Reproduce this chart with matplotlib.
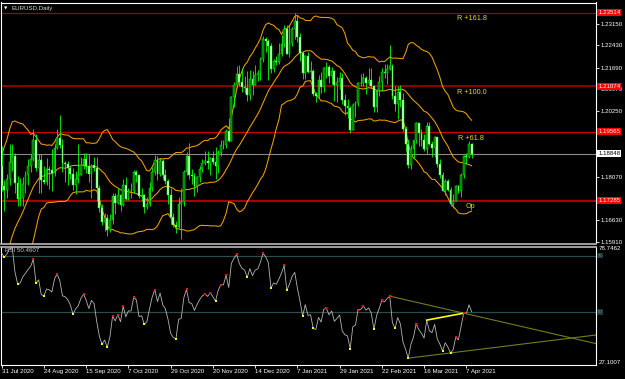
import matplotlib
matplotlib.use("Agg")
import matplotlib.pyplot as plt
from matplotlib.transforms import blended_transform_factory
import numpy as np
import pandas as pd

plt.rcParams['font.family'] = ['Liberation Sans', 'DejaVu Sans']

# ---------------- data ----------------
symbol_title = "EURUSD,Daily"
date_labels = ["31 Jul 2020", "24 Aug 2020", "15 Sep 2020", "7 Oct 2020", "29 Oct 2020",
               "20 Nov 2020", "14 Dec 2020", "7 Jan 2021", "29 Jan 2021", "22 Feb 2021",
               "16 Mar 2021", "7 Apr 2021"]
date_bar_index = [0, 16, 32, 48, 64, 80, 96, 112, 128, 144, 160, 176]

# closes of the bars before the first visible bar (indicator history)
prior_closes = [1.1240, 1.1247, 1.1308, 1.1275, 1.1330, 1.1286, 1.1300, 1.1343, 1.1398, 1.1410,
                1.1383, 1.1427, 1.1444, 1.1525, 1.1569, 1.1595, 1.1657, 1.1753, 1.1717, 1.1790,
                1.1845]

closes = [1.1778, 1.1763, 1.1800, 1.1858, 1.1875, 1.1786, 1.1735, 1.1739, 1.1785, 1.1812,
          1.1842, 1.1868, 1.1930, 1.1837, 1.1862, 1.1796, 1.1792, 1.1833, 1.1830, 1.1821,
          1.1902, 1.1937, 1.1913, 1.1853, 1.1849, 1.1838, 1.1817, 1.1779, 1.1801, 1.1814,
          1.1846, 1.1865, 1.1845, 1.1816, 1.1848, 1.1838, 1.1771, 1.1703, 1.1657, 1.1671,
          1.1631, 1.1665, 1.1744, 1.1721, 1.1747, 1.1715, 1.1781, 1.1734, 1.1760, 1.1760,
          1.1823, 1.1813, 1.1743, 1.1747, 1.1707, 1.1718, 1.1769, 1.1823, 1.1862, 1.1816,
          1.1860, 1.1812, 1.1795, 1.1747, 1.1673, 1.1647, 1.1640, 1.1717, 1.1723, 1.1824,
          1.1875, 1.1815, 1.1810, 1.1778, 1.1808, 1.1833, 1.1852, 1.1861, 1.1853, 1.1870,
          1.1857, 1.1843, 1.1888, 1.1914, 1.1914, 1.1960, 1.1926, 1.2071, 1.2113, 1.2149,
          1.2121, 1.2106, 1.2101, 1.2079, 1.2133, 1.2112, 1.2146, 1.2153, 1.2197, 1.2265,
          1.2256, 1.2240, 1.2164, 1.2191, 1.2187, 1.2214, 1.2249, 1.2296, 1.2216, 1.2251,
          1.2298, 1.2325, 1.2271, 1.2219, 1.2150, 1.2208, 1.2154, 1.2157, 1.2083, 1.2077,
          1.2130, 1.2106, 1.2167, 1.2170, 1.2141, 1.2158, 1.2111, 1.2123, 1.2136, 1.2062,
          1.2042, 1.2036, 1.1963, 1.2044, 1.2051, 1.2118, 1.2119, 1.2134, 1.2118, 1.2127,
          1.2107, 1.2039, 1.2091, 1.2121, 1.2156, 1.2151, 1.2165, 1.2175, 1.2075, 1.2048,
          1.2089, 1.2061, 1.1965, 1.1915, 1.1848, 1.1899, 1.1928, 1.1985, 1.1952, 1.1929,
          1.1901, 1.1977, 1.1915, 1.1904, 1.1939, 1.1849, 1.1812, 1.1760, 1.1793, 1.1763,
          1.1717, 1.1729, 1.1777, 1.1760, 1.1813, 1.1875, 1.1873, 1.1915, 1.18848]

highs = [1.1909, 1.1797, 1.1818, 1.1916, 1.1916, 1.1885, 1.1810, 1.1805, 1.1808, 1.1826,
         1.1865, 1.1883, 1.1966, 1.1950, 1.1883, 1.1882, 1.1843, 1.1870, 1.1845, 1.1900,
         1.1917, 1.1966, 1.2011, 1.1933, 1.1860, 1.1860, 1.1842, 1.1837, 1.1826, 1.1917,
         1.1873, 1.1886, 1.1886, 1.1882, 1.1851, 1.1872, 1.1873, 1.1780, 1.1719, 1.1688,
         1.1685, 1.1683, 1.1754, 1.1755, 1.1770, 1.1750, 1.1799, 1.1807, 1.1772, 1.1786,
         1.1831, 1.1829, 1.1815, 1.1772, 1.1751, 1.1740, 1.1789, 1.1839, 1.1881, 1.1878,
         1.1870, 1.1868, 1.1834, 1.1800, 1.1770, 1.1688, 1.1660, 1.1742, 1.1769, 1.1831,
         1.1891, 1.1920, 1.1835, 1.1819, 1.1811, 1.1845, 1.1866, 1.1894, 1.1892, 1.1873,
         1.1892, 1.1905, 1.1895, 1.1928, 1.1930, 1.1965, 1.2004, 1.2077, 1.2123, 1.2176,
         1.2178, 1.2167, 1.2143, 1.2157, 1.2163, 1.2157, 1.2177, 1.2161, 1.2203, 1.2273,
         1.2272, 1.2264, 1.2251, 1.2199, 1.2209, 1.2251, 1.2276, 1.2311, 1.2310, 1.2310,
         1.2304, 1.2349, 1.2344, 1.2285, 1.2226, 1.2210, 1.2220, 1.2191, 1.2165, 1.2090,
         1.2145, 1.2155, 1.2172, 1.2189, 1.2177, 1.2170, 1.2160, 1.2138, 1.2155, 1.2151,
         1.2082, 1.2064, 1.2042, 1.2051, 1.2058, 1.2123, 1.2149, 1.2150, 1.2143, 1.2169,
         1.2167, 1.2110, 1.2097, 1.2143, 1.2168, 1.2181, 1.2182, 1.2243, 1.2183, 1.2110,
         1.2108, 1.2113, 1.2085, 1.1976, 1.1933, 1.1913, 1.1930, 1.1990, 1.1987, 1.1967,
         1.1950, 1.1989, 1.1990, 1.1926, 1.1943, 1.1941, 1.1866, 1.1825, 1.1799, 1.1799,
         1.1775, 1.1750, 1.1782, 1.1780, 1.1820, 1.1881, 1.1888, 1.1927, 1.1920]

lows = [1.1762, 1.1696, 1.1738, 1.1782, 1.1828, 1.1754, 1.1712, 1.1711, 1.1712, 1.1755,
        1.1780, 1.1823, 1.1861, 1.1828, 1.1754, 1.1753, 1.1785, 1.1781, 1.1768, 1.1762,
        1.1809, 1.1901, 1.1903, 1.1822, 1.1789, 1.1781, 1.1802, 1.1765, 1.1752, 1.1787,
        1.1812, 1.1833, 1.1820, 1.1789, 1.1737, 1.1826, 1.1729, 1.1690, 1.1649, 1.1627,
        1.1612, 1.1625, 1.1650, 1.1684, 1.1719, 1.1696, 1.1712, 1.1730, 1.1730, 1.1738,
        1.1755, 1.1789, 1.1737, 1.1728, 1.1689, 1.1702, 1.1710, 1.1760, 1.1814, 1.1796,
        1.1810, 1.1802, 1.1784, 1.1718, 1.1650, 1.1640, 1.1622, 1.1639, 1.1603, 1.1710,
        1.1815, 1.1801, 1.1784, 1.1745, 1.1756, 1.1791, 1.1822, 1.1846, 1.1835, 1.1812,
        1.1849, 1.1802, 1.1820, 1.1876, 1.1901, 1.1904, 1.1924, 1.1925, 1.2040, 1.2102,
        1.2107, 1.2089, 1.2084, 1.2059, 1.2062, 1.2078, 1.2112, 1.2126, 1.2127, 1.2187,
        1.2222, 1.2130, 1.2153, 1.2155, 1.2177, 1.2180, 1.2207, 1.2237, 1.2214, 1.2205,
        1.2240, 1.2265, 1.2254, 1.2192, 1.2133, 1.2132, 1.2153, 1.2131, 1.2074, 1.2054,
        1.2070, 1.2086, 1.2087, 1.2136, 1.2118, 1.2116, 1.2060, 1.2057, 1.2097, 1.2049,
        1.2011, 1.2004, 1.1952, 1.1962, 1.2006, 1.2041, 1.2109, 1.2108, 1.2081, 1.2113,
        1.2102, 1.2023, 1.2022, 1.2077, 1.2091, 1.2134, 1.2115, 1.2162, 1.2066, 1.2027,
        1.2000, 1.2039, 1.1961, 1.1893, 1.1836, 1.1835, 1.1870, 1.1919, 1.1910, 1.1910,
        1.1894, 1.1883, 1.1912, 1.1873, 1.1873, 1.1840, 1.1805, 1.1759, 1.1748, 1.1761,
        1.1711, 1.1704, 1.1727, 1.1755, 1.1740, 1.1805, 1.1850, 1.1869, 1.1870]

fib_levels = [1.23514, 1.21074, 1.19565, 1.17285]
fib_names = ["R +161.8", "R +100.0", "R +61.8", "Op"]
bid_price = 1.18848
price_ticks = [1.23150, 1.22430, 1.21690, 1.20970, 1.20250, 1.18070, 1.16630, 1.15910]

rsi_title = "RSI 50.4607"
rsi_max_label, rsi_min_label = 78.7462, 27.1007
rsi_levels = [75, 50]
rsi_peaks = [12, 21, 31, 42, 44, 46, 50, 58, 70, 77, 79, 83, 85, 89, 99, 107, 123, 135,
             137, 144, 147, 157, 172, 175]
rsi_troughs = [1, 6, 13, 16, 27, 38, 40, 54, 66, 81, 93, 102, 108, 114, 118, 132, 141,
               149, 154, 167, 170]
upper_trend = (147, 175)
lower_trend = (154, 170)
yellow_trend = (161, 175)

# ---------------- indicators ----------------
allc = np.array(prior_closes + closes)
npre = len(prior_closes)
c = np.array(closes)
o = allc[npre - 1:-1]
h = np.array(highs)
lo = np.array(lows)
idx = np.arange(len(c))

s = pd.Series(allc)
mid = s.rolling(20).mean().to_numpy()[npre:]
sd = s.rolling(20).std(ddof=0).to_numpy()[npre:]
up_band = mid + 2 * sd
lo_band = mid - 2 * sd

n = 14
d = np.diff(allc)
g = np.clip(d, 0, None)
ls = np.clip(-d, 0, None)
ag = np.full(len(allc), np.nan)
al = np.full(len(allc), np.nan)
ag[n] = g[:n].mean()
al[n] = ls[:n].mean()
for i in range(n + 1, len(allc)):
    ag[i] = (ag[i - 1] * (n - 1) + g[i - 1]) / n
    al[i] = (al[i - 1] * (n - 1) + ls[i - 1]) / n
rsi_all = 100 - 100 / (1 + ag / al)
rsi = rsi_all[npre:]

# ---------------- figure ----------------
W, H = 625, 379
fig = plt.figure(figsize=(W / 100, H / 100), dpi=100, facecolor='black')


def rect(x0, y0, x1, y1):
    return [x0 / W, 1 - y1 / H, (x1 - x0) / W, (y1 - y0) / H]


ax = fig.add_axes(rect(1.5, 2.5, 596, 243.5))
rx = fig.add_axes(rect(1.5, 246.5, 596, 364.5), sharex=ax)

FS = 4.4
px_per_bar = 2.64
x_left = (1.5 - 1.7) / px_per_bar
x_right = (596 - 1.7) / px_per_bar
ax.set_xlim(x_left, x_right)
ax.set_ylim(1.15867, 1.23851)

for a in (ax, rx):
    a.set_facecolor('black')
    for sp in a.spines.values():
        sp.set_color('white')
        sp.set_linewidth(0.8)

ax.spines['bottom'].set_color('#b8b8b8')
ax.spines['bottom'].set_linewidth(1.2)
rx.spines['top'].set_color('#b8b8b8')
rx.spines['top'].set_linewidth(1.2)

# horizontal levels
fib_colors = ['#a00000', '#8a0000', '#c80000', '#a80000']
fib_widths = [0.9, 1.5, 0.9, 1.5]
for lvl, col, lw in zip(fib_levels, fib_colors, fib_widths):
    ax.axhline(lvl, color=col, lw=lw, zorder=1)
ax.axhline(bid_price, color='#8a8a8a', lw=0.8, zorder=1)

# bands
band_col = '#f0a000'
for band in (up_band, mid, lo_band):
    ax.plot(idx, band, color=band_col, lw=0.75, zorder=2)

# candles
ax.vlines(idx, lo, h, color='#00ff00', lw=0.6, zorder=3)
bull = c >= o
body_h = np.maximum(np.abs(c - o), 0.00004)
ax.bar(idx[bull], body_h[bull], bottom=o[bull], width=0.68, color='#007000',
       edgecolor='#00ff00', lw=0.35, zorder=4)
ax.bar(idx[~bull], body_h[~bull], bottom=c[~bull], width=0.68, color='#d2ffd2',
       edgecolor='#00ff00', lw=0.35, zorder=4)

# fibo labels
label_pos = [172.5, 172.5, 172.8, 175.8]
for lvl, name, xp in zip(fib_levels, fib_names, label_pos):
    ax.annotate(name, (xp, lvl), xytext=(0, -2), textcoords='offset points',
                color='#e0e000', fontsize=5.2, va='top', ha='left', zorder=6)

# price axis
ax.yaxis.tick_right()
ax.set_yticks(price_ticks)
ax.set_yticklabels([f"{v:.5f}" for v in price_ticks])
ax.tick_params(axis='y', colors='white', labelcolor='white', length=2, width=0.6,
               labelsize=FS, pad=1.2, direction='out')
ax.tick_params(axis='x', bottom=False, labelbottom=False)

tr = blended_transform_factory(ax.transAxes, ax.transData)
for lvl in fib_levels:
    ax.text(1.0035, lvl, f"{lvl:.5f}", transform=tr, fontsize=FS, color='white',
            va='center', ha='left', clip_on=False, zorder=10,
            bbox=dict(boxstyle='square,pad=0.18', fc='#ff0000', ec='none'))
ax.text(1.0035, bid_price, f"{bid_price:.5f}", transform=tr, fontsize=FS, color='black',
        va='center', ha='left', clip_on=False, zorder=10,
        bbox=dict(boxstyle='square,pad=0.18', fc='white', ec='none'))

# ---------------- RSI panel ----------------
rx.set_ylim(rsi_min_label - 0.3, rsi_max_label + 0.3)
for lv in rsi_levels:
    rx.axhline(lv, color='#2c4c4c', lw=0.9, zorder=1)
rx.plot(idx, rsi, color='#b4b4b4', lw=0.6, zorder=3)
rx.scatter(rsi_peaks, rsi[rsi_peaks], marker='s', s=4, color='#ff1010', lw=0, zorder=5)
rx.scatter(rsi_troughs, rsi[rsi_troughs], marker='s', s=4, color='#ffff00', lw=0, zorder=5)


def trend(ax_, i1, i2, color, lw, extend):
    y1, y2 = rsi[i1], rsi[i2]
    x_end = x_right + 2 if extend else i2
    slope = (y2 - y1) / (i2 - i1)
    ax_.plot([i1, x_end], [y1, y1 + slope * (x_end - i1)], color=color, lw=lw, zorder=4)


trend(rx, *upper_trend, '#6e7f1e', 0.8, True)
trend(rx, *lower_trend, '#6e7f1e', 0.8, True)
trend(rx, *yellow_trend, '#ffff00', 1.2, False)

rx.set_yticks([])
rtr = blended_transform_factory(rx.transAxes, rx.transData)
rx.text(1.004, 1.0, f"{rsi_max_label:.4f}", transform=rx.transAxes, fontsize=FS,
        color='white', va='top', ha='left', clip_on=False)
rx.text(1.004, 0.0, f"{rsi_min_label:.4f}", transform=rx.transAxes, fontsize=FS,
        color='white', va='bottom', ha='left', clip_on=False)
for lv in rsi_levels:
    rx.text(1.0035, lv, f"{lv}", transform=rtr, fontsize=3.2, color='#5f8f8f',
            va='center', ha='left', clip_on=False,
            bbox=dict(boxstyle='square,pad=0.15', fc='#1e3838', ec='none'))

rx.set_xticks(date_bar_index)
rx.set_xticklabels(date_labels)
rx.tick_params(axis='x', colors='white', labelcolor='white', length=2.5, width=0.6,
               labelsize=FS, pad=1.0, direction='out')
for lbl in rx.get_xticklabels():
    lbl.set_ha('left')

# titles
fig.text(4 / W, 1 - 8.5 / H, "▼", fontsize=3.2, color='white', va='center', ha='left',
         family='DejaVu Sans')
fig.text(12 / W, 1 - 8.5 / H, symbol_title, fontsize=FS, color='#dcdcdc', va='center', ha='left')
fig.text(5 / W, 1 - 251 / H, rsi_title, fontsize=FS, color='#c8c8c8', va='center', ha='left')

fig.savefig('out.png', dpi=100, facecolor='black')
